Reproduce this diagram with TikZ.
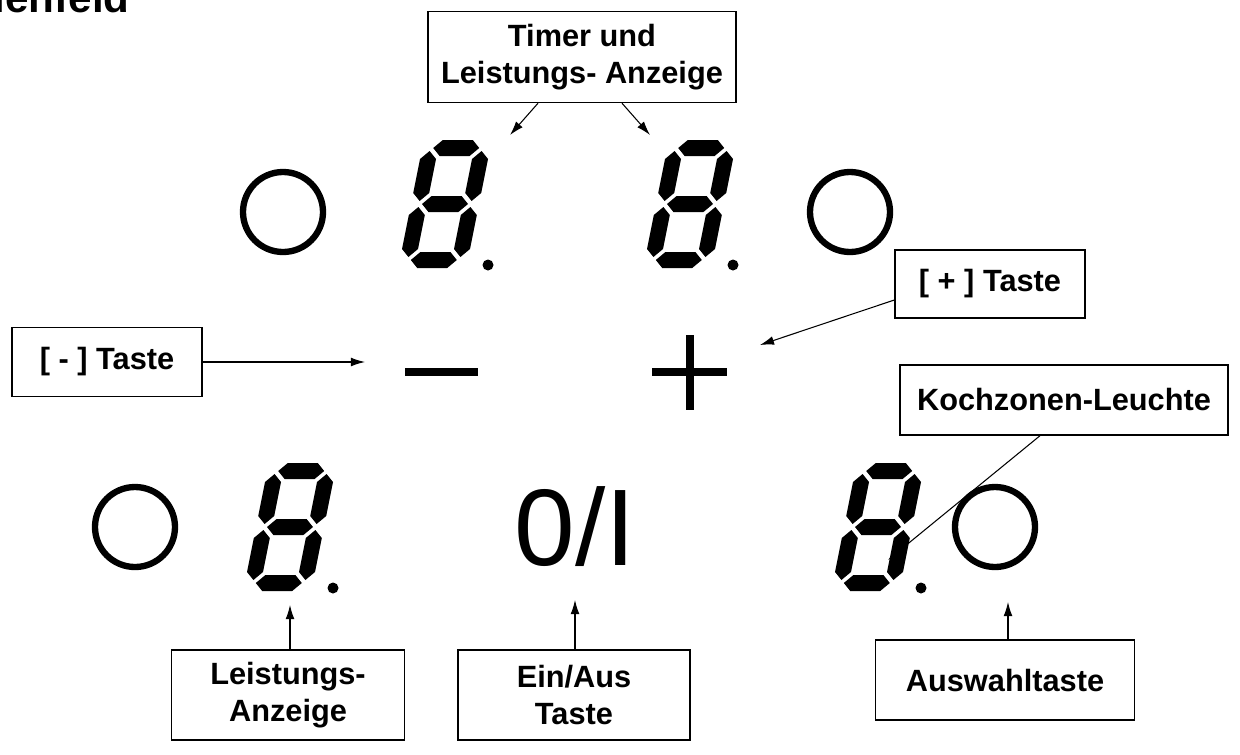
\documentclass[tikz,border=0pt]{standalone}
\usepackage{fontspec}
\setmainfont{Liberation Sans}
\usetikzlibrary{positioning,arrows.meta}
\tikzset{
  label box/.style={draw, line width=0.8pt, fill=white, align=center, font=\fontsize{17.5}{21}\selectfont\bfseries, inner sep=6pt},
  pointer/.style={-{Latex[length=8pt,width=5pt]}, line width=0.6pt},
  key ring/.style={line width=3.6pt},
  seg/.style={fill=black, draw=none},
  pics/segdigit/.style={code={
    \begin{scope}[xslant=0.2]
      % horizontal segments
      \foreach \yy in {-56,0,56}
        \fill[seg] (-23,\yy) -- (-15,\yy-8) -- (15,\yy-8) -- (23,\yy) -- (15,\yy+8) -- (-15,\yy+8) -- cycle;
      % vertical segments
      \foreach \xx in {-26,26}
        \foreach \yy in {-28,28}
          \fill[seg] (\xx,\yy-25) -- (\xx+8,\yy-17) -- (\xx+8,\yy+17) -- (\xx,\yy+25) -- (\xx-8,\yy+17) -- (\xx-8,\yy-17) -- cycle;
    \end{scope}
    \fill (43,61) circle (5.5);
  }}
}
\begin{document}
\begin{tikzpicture}[x=0.02cm, y=-0.02cm]
    \useasboundingbox (0,0) rectangle (1240,754);
    % title, cut off at the top
    \node[anchor=base east, font=\fontsize{24}{28}\selectfont\bfseries, inner sep=0pt] (title) at (130,12) {Bedienfeld};

    % Displays
    \pic (dispTL) at (445,204) {segdigit};
    \pic (dispTR) at (690,204) {segdigit};
    \pic (dispBL) at (290,527) {segdigit};
    \pic (dispBR) at (878,527) {segdigit};

    % Keys
    \draw[key ring] (283,212) circle (40);
    \draw[key ring] (850,212) circle (40);
    \draw[key ring] (135,527) circle (40);
    \draw[key ring] (995,527) circle (40);
    \draw[line width=4pt] (405,372) -- (478,372);
    \draw[line width=4pt] (652,372) -- (727,372) (690,335) -- (690,410);
    \node[font=\fontsize{62}{64}\selectfont] (onoff) at (575,527) {0/I};

    % Labels
    \node[label box, minimum width=308*0.02cm, minimum height=91*0.02cm] (timer) at (582,57) {Timer und\\Leistungs- Anzeige};
    \node[label box, minimum width=190*0.02cm, minimum height=68*0.02cm] (plus) at (990,284) {[ + ] Taste};
    \node[label box, minimum width=190*0.02cm, minimum height=69*0.02cm] (minus) at (107,362) {[ - ] Taste};
    \node[label box, minimum width=328*0.02cm, minimum height=70*0.02cm] (zone) at (1064,400) {Kochzonen-Leuchte};
    \node[label box, minimum width=233*0.02cm, minimum height=90*0.02cm] (power) at (288,695) {Leistungs-\\Anzeige};
    \node[label box, minimum width=232*0.02cm, minimum height=90*0.02cm] (onofflbl) at (574,695) {Ein/Aus\\Taste};
    \node[label box, minimum width=259*0.02cm, minimum height=80*0.02cm] (select) at (1005,680) {Auswahltaste};

    % Pointers
    \coordinate (tipTL) at (510,135);
    \coordinate (tipTR) at (650,135);
    \coordinate (tipPlus) at (760,345);
    \coordinate (tipMinus) at (365,362);
    \coordinate (tipZone) at (888,560);
    \coordinate (tipPower) at (290,605);
    \coordinate (tipOnOff) at (575,600);
    \coordinate (tipSelect) at (1008,602);
    \draw[pointer] (timer.south -| 538,0) -- (tipTL);
    \draw[pointer] (timer.south -| 622,0) -- (tipTR);
    \draw[pointer] (plus.west |- 0,300) -- (tipPlus);
    \draw[pointer] (minus.east) -- (tipMinus);
    \draw[pointer] (zone.south -| 1040,0) -- (tipZone);
    \draw[pointer] (power.north -| tipPower) -- (tipPower);
    \draw[pointer] (onofflbl.north -| tipOnOff) -- (tipOnOff);
    \draw[pointer] (select.north -| tipSelect) -- (tipSelect);
\end{tikzpicture}
\end{document}
